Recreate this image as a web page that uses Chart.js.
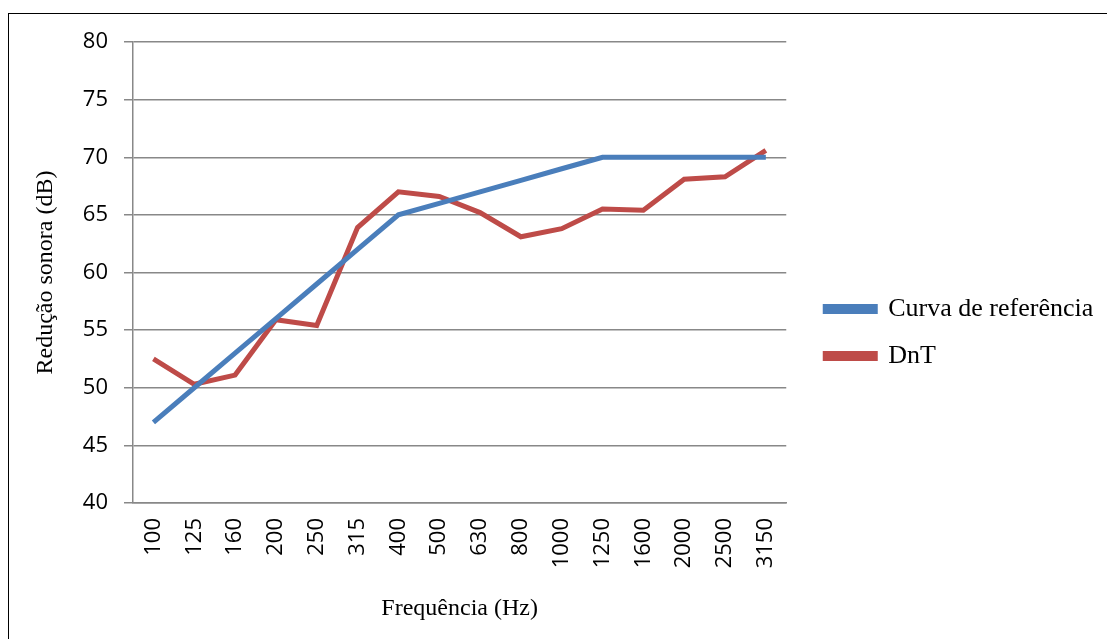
<!DOCTYPE html>
<html>
<head>
<meta charset="utf-8">
<script src="https://cdn.jsdelivr.net/npm/chart.js@4"></script>
<style>
  html, body { margin: 0; padding: 0; background: #fff; overflow: hidden; }
  #frame { position: absolute; left: 8px; top: 13px; width: 1120px; height: 660px; border: 1px solid #000; }
  #wrap { position: absolute; left: 0; top: 0; width: 1107px; height: 639px; }
</style>
</head>
<body>
<div id="frame"></div>
<div id="wrap"><canvas id="chart"></canvas></div>
<script>
const frequencias = ['100', '125', '160', '200', '250', '315', '400', '500', '630', '800', '1000', '1250', '1600', '2000', '2500', '3150'];
const curvaReferencia = [47, 50, 53, 56, 59, 62, 65, 66, 67, 68, 69, 70, 70, 70, 70, 70];
const dnt = [52.5, 50.3, 51.1, 55.9, 55.4, 63.9, 67.0, 66.6, 65.2, 63.1, 63.8, 65.5, 65.4, 68.1, 68.3, 70.6];

const serif = '"Liberation Serif", "Times New Roman", serif';
const sans = '"Open Sans", "DejaVu Sans", sans-serif';

// a legenda fica limitada em largura pelo layout; afasta do gráfico e deixa o texto caber
const legendGap = {
  id: 'legendGap',
  afterLayout(chart) {
    if (chart.legend) {
      chart.legend.left += 18;
      chart.legend.right = chart.width;
    }
  }
};

function desenha() {
  new Chart(document.getElementById('chart'), {
    type: 'line',
    data: {
      labels: frequencias,
      datasets: [{
        label: 'Curva de referência',
        data: curvaReferencia,
        borderColor: '#4a7ebb',
        backgroundColor: '#4a7ebb',
        borderWidth: 5,
        pointRadius: 0,
        tension: 0
      }, {
        label: 'DnT',
        data: dnt,
        borderColor: '#be4b48',
        backgroundColor: '#be4b48',
        borderWidth: 5,
        pointRadius: 0,
        tension: 0
      }]
    },
    plugins: [legendGap],
    options: {
      responsive: true,
      maintainAspectRatio: false,
      animation: false,
      layout: { padding: { top: 42, right: 69, bottom: 16, left: 31 } },
      plugins: {
        tooltip: { enabled: false },
        legend: {
          position: 'right',
          labels: {
            font: { family: serif, size: 26 },
            color: '#000',
            boxWidth: 50,
            boxHeight: 5,
            padding: 21
          }
        }
      },
      scales: {
        x: {
          offset: true,
          afterFit: (scale) => { scale.height = 120; },
          grid: { display: false, drawTicks: false },
          border: { color: '#888', width: 1.5 },
          ticks: {
            color: '#000',
            font: { family: sans, size: 22 },
            minRotation: 90,
            maxRotation: 90,
            padding: 15,
            autoSkip: false
          },
          title: {
            display: true,
            text: 'Frequência (Hz)',
            color: '#000',
            font: { family: serif, size: 24 },
            padding: 0
          }
        },
        y: {
          min: 40,
          max: 80,
          afterFit: (scale) => { scale.width = 102; },
          ticks: {
            stepSize: 5,
            color: '#000',
            font: { family: sans, size: 22 },
            padding: 16
          },
          grid: { color: '#888', lineWidth: 1.5, tickLength: 9 },
          border: { color: '#888', width: 1.5 },
          title: {
            display: true,
            text: 'Redução sonora (dB)',
            color: '#000',
            font: { family: serif, size: 24 },
            padding: 0
          }
        }
      }
    }
  });
}

Promise.all([
  document.fonts.load('26px "Liberation Serif"'),
  document.fonts.load('22px "Open Sans"')
]).then(desenha, desenha);
</script>
</body>
</html>
